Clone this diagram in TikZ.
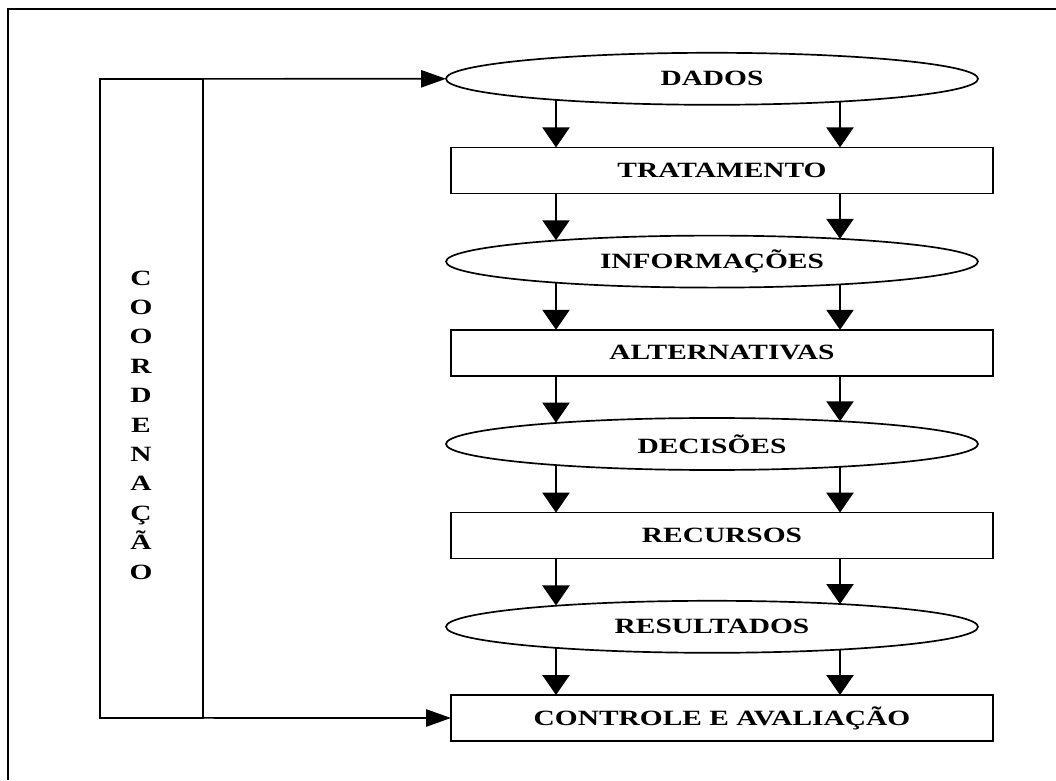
\documentclass[tikz,border=0pt]{standalone}
\usepackage{fontspec}
\setmainfont{Liberation Serif}[FakeStretch=1.35]
\usetikzlibrary{arrows.meta,shapes.geometric}
\tikzset{
    shape style/.style={draw, line width=1.2pt, fill=white, outer sep=0pt},
    caixa/.style={shape style, rectangle, minimum width=13.55cm, minimum height=1.15cm},
    oval/.style={shape style, ellipse, minimum width=13.3cm, minimum height=1.3cm, inner sep=0pt},
    coluna/.style={shape style, rectangle, minimum width=2.575cm, minimum height=15.975cm},
    seta/.style={-{Triangle[width=.68cm,length=.5cm]}, line width=1.2pt},
    seta lateral/.style={-{Triangle[width=.43cm,length=.62cm]}, line width=1.2pt},
    moldura/.style={line width=2pt},
}
\tikzstyle{every node}=[font=\fontsize{15.5}{20.9}\selectfont\bfseries]

\begin{document}
\begin{tikzpicture}
    \useasboundingbox (0,0) rectangle (26.4,19.5);
    \draw[moldura] (0.2,0) -- (0.2,19.275) -- (26.4,19.275);

    \node[oval]  (dados) at (17.8,17.53) {DADOS};
    \node[caixa] (trat)  at (18.05,15.24) {TRATAMENTO};
    \node[oval]  (info)  at (17.8,12.96) {INFORMAÇÕES};
    \node[caixa] (alt)   at (18.05,10.68) {ALTERNATIVAS};
    \node[oval]  (dec)   at (17.8,8.4) {DECISÕES};
    \node[caixa] (rec)   at (18.05,6.11) {RECURSOS};
    \node[oval]  (res)   at (17.8,3.83) {RESULTADOS};
    \node[caixa] (ctrl)  at (18.05,1.55) {CONTROLE E AVALIAÇÃO};

    % coordenacao
    \node[coluna] (coord) at (3.7875,9.54) {};
    \node[align=center, inner sep=0pt] (rotulo) at (3.525,8.875)
        {C\\O\\O\\R\\D\\E\\N\\A\\Ç\\Ã\\O};
    \draw[seta lateral] (coord.north west) -- (dados.west);
    \draw[seta lateral] (coord.south east) -- (ctrl.west);

    \coordinate (colA) at (13.9,0);
    \coordinate (colB) at (21.0,0);
    \foreach \de/\para in {dados/trat, info/alt, dec/rec, res/ctrl} {
        \draw[seta] (\de.-172 -| colA) -- (\para.north -| colA);
        \draw[seta] (\de.-10 -| colB) -- (\para.north -| colB);
    }
    \foreach \de/\para in {trat/info, alt/dec, rec/res} {
        \draw[seta] (\de.south -| colA) -- (\para.172 -| colA);
        \draw[seta] (\de.south -| colB) -- (\para.10 -| colB);
    }
\end{tikzpicture}
\end{document}
